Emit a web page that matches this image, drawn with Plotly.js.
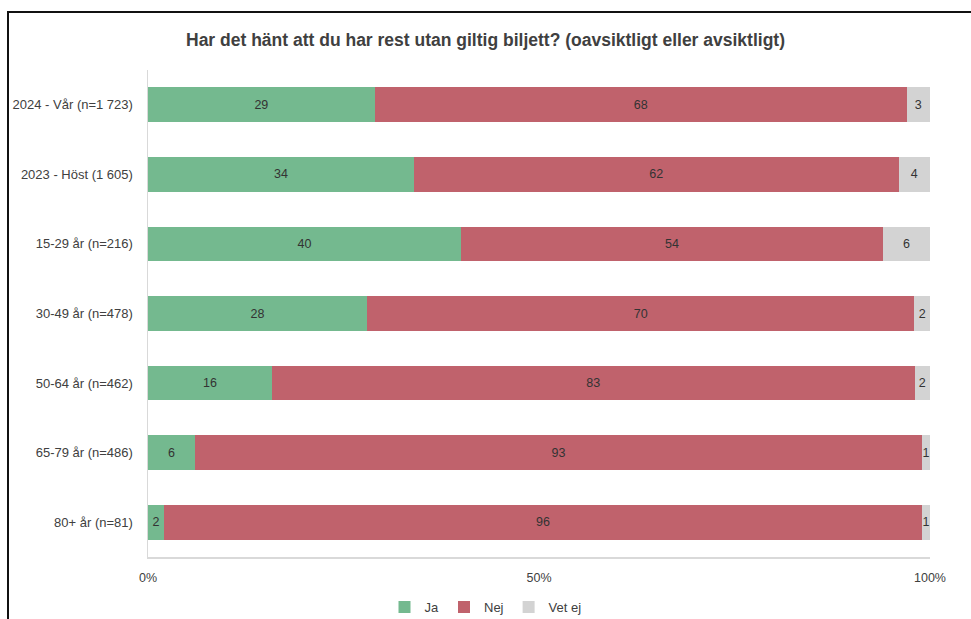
<!DOCTYPE html>
<html>
<head>
<meta charset="utf-8">
<script src="https://cdn.plot.ly/plotly-3.0.1.min.js"></script>
<style>
  html, body { margin:0; padding:0; background:#fff; }
  #wrap { position:relative; width:971px; height:619px; }
  #chart { position:absolute; left:0; top:0; width:971px; height:619px; }
  #frame { position:absolute; left:7px; top:11px; width:980px; height:620px;
           border-left:2px solid #111; border-top:2px solid #111; pointer-events:none; }
</style>
</head>
<body>
<div id="wrap">
  <div id="chart"></div>
  <div id="frame"></div>
</div>
<script>
const categories = [
  "2024 - Vår (n=1 723)",
  "2023 - Höst (1 605)",
  "15-29 år (n=216)",
  "30-49 år (n=478)",
  "50-64 år (n=462)",
  "65-79 år (n=486)",
  "80+ år (n=81)"
];
const ja    = [29, 34, 40, 28, 16, 6, 2];
const nej   = [68, 62, 54, 70, 83, 93, 96];
const vetej = [3, 4, 6, 2, 2, 1, 1];
const seriesNames = ["Ja", "Nej", "Vet ej"];
const colors = ["#74b98f", "#c0626c", "#d3d3d3"];
const xTickVals = [0, 50, 100];
const xTickText = ["0%", "50%", "100%"];

const FONT = "Liberation Sans, Arial, sans-serif";
const seriesValues = [ja, nej, vetej];
const traces = seriesValues.map((vals, i) => ({
  type: "bar",
  orientation: "h",
  name: seriesNames[i],
  y: categories,
  x: vals,
  text: vals.map(String),
  textposition: "inside",
  insidetextanchor: "middle",
  textangle: 0,
  constraintext: "none",
  textfont: { family: FONT, size: 12.5, color: "#333333" },
  marker: { color: colors[i], line: { width: 0 } },
  hoverinfo: "x+y+name"
}));

const layout = {
  width: 971,
  height: 619,
  barmode: "stack",
  barnorm: "percent",
  bargap: 0.5,
  paper_bgcolor: "#ffffff",
  plot_bgcolor: "#ffffff",
  font: { family: FONT, size: 12.5, color: "#404040" },
  margin: { l: 148, r: 41, t: 70, b: 62 },
  title: {
    text: "<b>Har det hänt att du har rest utan giltig biljett? (oavsiktligt eller avsiktligt)</b>",
    font: { family: FONT, size: 17.5, color: "#404040" },
    x: 0.5, xanchor: "center",
    y: 1 - 40/619, yanchor: "middle"
  },
  xaxis: {
    range: [0, 100],
    tickvals: xTickVals,
    ticktext: xTickText,
    showgrid: false,
    zeroline: false,
    showline: true,
    linecolor: "#d9d9d9",
    linewidth: 1.5,
    ticks: "",
    ticklabelstandoff: 8,
    tickfont: { size: 12.5, color: "#404040" },
    fixedrange: true
  },
  yaxis: {
    type: "category",
    autorange: "reversed",
    showgrid: false,
    zeroline: false,
    showline: true,
    linecolor: "#d9d9d9",
    linewidth: 1.5,
    ticks: "",
    ticklabelstandoff: 11,
    tickfont: { size: 13, color: "#404040" },
    fixedrange: true
  },
  showlegend: true,
  legend: {
    orientation: "h",
    xref: "container",
    yref: "container",
    x: 0.5,
    xanchor: "center",
    y: (619 - 607) / 619,
    yanchor: "middle",
    font: { size: 13, color: "#404040" },
    itemwidth: 30,
    traceorder: "normal",
    bgcolor: "rgba(0,0,0,0)"
  }
};

Plotly.newPlot("chart", traces, layout, { displayModeBar: false, staticPlot: true });
</script>
</body>
</html>
